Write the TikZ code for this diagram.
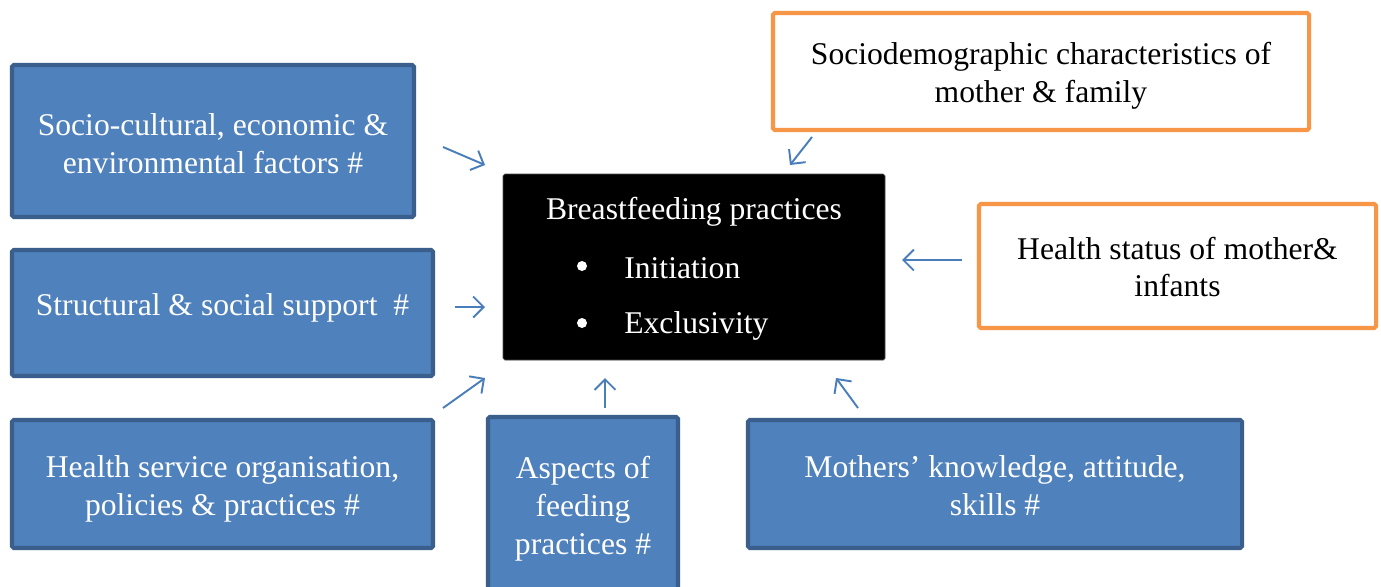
\documentclass[tikz,border=0pt]{standalone}
\usepackage{fontspec}
\setmainfont{Liberation Serif}
\usetikzlibrary{arrows.meta}
\definecolor{bluefill}{HTML}{4F81BD}
\definecolor{blueedge}{HTML}{3A5F8C}
\definecolor{orangeedge}{HTML}{F79646}
\definecolor{arrowblue}{HTML}{4A7EBB}
\begin{document}
\begin{tikzpicture}[x=0.02cm,y=-0.02cm,
  every node/.style={font=\fontsize{18pt}{21.6pt}\selectfont, inner sep=0pt, align=center},
  bluebox/.style={rectangle, fill=bluefill, draw=blueedge, line width=2.3pt, rounded corners=1pt},
  orangebox/.style={rectangle, fill=white, draw=orangeedge, line width=2.3pt, rounded corners=1pt},
  blackbox/.style={rectangle, fill=black, draw=black!70, line width=0.4pt, rounded corners=1pt},
  wtext/.style={text=white},
  btext/.style={text=black},
  dot/.style={circle, fill=white, minimum size=0.2cm},
  infl/.style={draw=arrowblue, line width=1.1pt, -{Straight Barb[length=6pt,width=12pt,line width=1.1pt]}}
]
\clip (0,0) rectangle (1381,586);
\fill[white] (0,0) rectangle (1381,586);

% boxes
\node[bluebox, minimum width=402*0.02cm, minimum height=152*0.02cm] (soc) at (213,141) {};
\node[wtext] (soct) at (213,144) {Socio-cultural, economic \&\\ environmental factors \#};
\node[bluebox, minimum width=421*0.02cm, minimum height=126*0.02cm] (str) at (222.5,313) {};
\node[wtext] (strt) at (222.5,308) {Structural \& social support~ \#};
\node[bluebox, minimum width=421*0.02cm, minimum height=128*0.02cm] (hso) at (222.5,484) {};
\node[wtext] (hsot) at (222.5,489) {Health service organisation,\\ policies \& practices \#};
\node[bluebox, minimum width=190*0.02cm, minimum height=190*0.02cm] (asp) at (583,512) {};
\node[wtext] (aspt) at (583,509) {Aspects of\\ feeding\\ practices \#};
\node[bluebox, minimum width=494*0.02cm, minimum height=128*0.02cm] (mot) at (995,484) {};
\node[wtext] (mott) at (995,486) {Mothers’ knowledge, attitude,\\ skills \#};
\node[orangebox, minimum width=536*0.02cm, minimum height=117*0.02cm] (sdc) at (1041,71.5) {};
\node[btext] (sdct) at (1041,76) {Sociodemographic characteristics of\\ mother \& family};
\node[orangebox, minimum width=397*0.02cm, minimum height=124*0.02cm] (hst) at (1177.5,266) {};
\node[btext] (hstt) at (1177.5,267) {Health status of mother\&\\ infants};

% central box
\node[blackbox, minimum width=382*0.02cm, minimum height=186*0.02cm] (bf) at (694,267) {};
\node[wtext] (bft) at (694,212) {Breastfeeding practices};
\node[dot] (b1) at (582,266) {};
\node[wtext, anchor=west] (i1) at (624,268) {Initiation};
\node[dot] (b2) at (582,323) {};
\node[wtext, anchor=west] (i2) at (624,326) {Exclusivity};

% arrow ends
\coordinate (s1) at (443,147); \coordinate (e1) at (485,165);
\coordinate (s2) at (455,307); \coordinate (e2) at (485,307);
\coordinate (s3) at (443,408); \coordinate (e3) at (485,378);
\coordinate (s4) at (605,408); \coordinate (e4) at (605,378);
\coordinate (s5) at (858,408); \coordinate (e5) at (836,378);
\coordinate (s6) at (962,260); \coordinate (e6) at (902,260);
\coordinate (s7) at (812,137); \coordinate (e7) at (790,165);

\foreach \i in {1,...,7} { \draw[infl] (s\i) -- (e\i); }
\end{tikzpicture}
\end{document}
